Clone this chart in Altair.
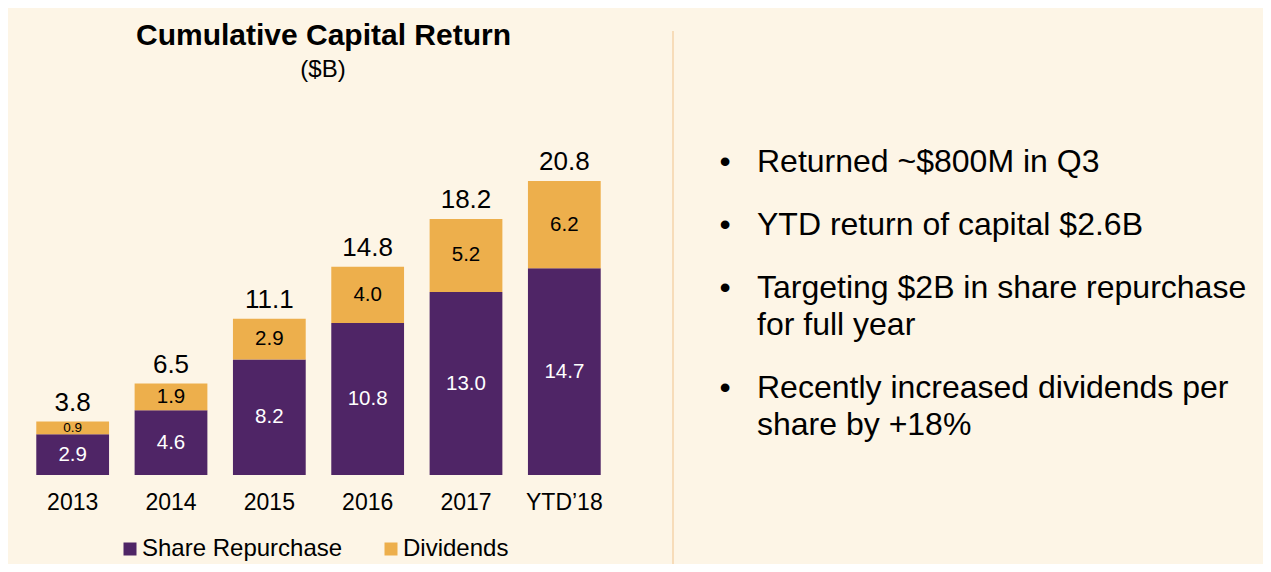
import altair as alt
import pandas as pd

# ---- data ----
years = ["2013", "2014", "2015", "2016", "2017", "YTD\u201918"]
repurchase = [2.9, 4.6, 8.2, 10.8, 13.0, 14.7]
dividends = [0.9, 1.9, 2.9, 4.0, 5.2, 6.2]
totals = [3.8, 6.5, 11.1, 14.8, 18.2, 20.8]
series = ["Share Repurchase", "Dividends"]
colors = ["#4F2566", "#EDAF4C"]
title_text = "Cumulative Capital Return"
subtitle_text = "($B)"
bullets = [
    ["Returned ~$800M in Q3"],
    ["YTD return of capital $2.6B"],
    ["Targeting $2B in share repurchase", "for full year"],
    ["Recently increased dividends per", "share by +18%"],
]

FONT = "Liberation Sans"
BG = "#FDF5E6"

rows = []
for i, yr in enumerate(years):
    rows.append({"year": yr, "series": series[0], "value": repurchase[i], "ord": 0})
    rows.append({"year": yr, "series": series[1], "value": dividends[i], "ord": 1})
df = pd.DataFrame(rows)

df_tot = pd.DataFrame({
    "year": years,
    "top": [r + d for r, d in zip(repurchase, dividends)],
    "label": [f"{t:.1f}" for t in totals],
})

x_enc = alt.X(
    "year:N",
    scale=alt.Scale(domain=years, range=[15.5, 605.5], paddingInner=0.26, paddingOuter=0.13),
    axis=alt.Axis(title=None, domain=False, ticks=False, labelAngle=0, labelFontSize=23,
                  labelColor="#000000", labelPadding=16, labelFont=FONT),
)
yscale = alt.Scale(domain=[0, 20.9], range=[467, 172.9], nice=False)

bars = alt.Chart(df).mark_bar().encode(
    x=x_enc,
    y=alt.Y("value:Q", stack="zero", scale=yscale, axis=None),
    color=alt.Color(
        "series:N",
        scale=alt.Scale(domain=series, range=colors),
        legend=alt.Legend(
            title=None, orient="none", legendX=110, legendY=529, direction="horizontal",
            symbolType="square", symbolSize=169, symbolStrokeWidth=0, symbolOpacity=1,
            labelFontSize=24, labelFont=FONT, labelColor="#000000", labelLimit=0,
            columnPadding=36, labelOffset=0, padding=0,
        ),
    ),
    order=alt.Order("ord:Q", sort="ascending"),
)

stacked = alt.Chart(df).transform_stack(
    stack="value", groupby=["year"], as_=["v0", "v1"],
    sort=[alt.SortField("ord", order="ascending")],
).transform_calculate(
    mid="(datum.v0 + datum.v1) / 2",
    lab="format(datum.value, '.1f')",
    fs="datum.value < 1 ? 13.5 : 20.5",
)

rep_labels = stacked.transform_filter("datum.ord == 0").mark_text(
    color="white", font=FONT, baseline="middle"
).encode(
    x=x_enc,
    y=alt.Y("mid:Q", scale=yscale, axis=None),
    text="lab:N",
    size=alt.Size("fs:Q", scale=None, legend=None),
)
div_labels = stacked.transform_filter("datum.ord == 1").mark_text(
    color="black", font=FONT, baseline="middle"
).encode(
    x=x_enc,
    y=alt.Y("mid:Q", scale=yscale, axis=None),
    text="lab:N",
    size=alt.Size("fs:Q", scale=None, legend=None),
)

tot_labels = alt.Chart(df_tot).mark_text(
    color="black", font=FONT, fontSize=26, baseline="alphabetic", dy=-11
).encode(
    x=x_enc,
    y=alt.Y("top:Q", scale=yscale, axis=None),
    text="label:N",
)

title = alt.Chart(pd.DataFrame({"t": [title_text]})).mark_text(
    font=FONT, fontSize=30, fontWeight="bold", color="black", baseline="alphabetic", align="center"
).encode(text="t:N", x=alt.value(315.5), y=alt.value(36.5))

subtitle = alt.Chart(pd.DataFrame({"t": [subtitle_text]})).mark_text(
    font=FONT, fontSize=24, color="black", baseline="alphabetic", align="center"
).encode(text="t:N", x=alt.value(315), y=alt.value(69))

divider = alt.Chart(pd.DataFrame({"a": [0]})).mark_rule(
    color="#F5D3AA", strokeWidth=1.5
).encode(x=alt.value(665), y=alt.value(23), y2=alt.value(570))

bullet_layers = []
y_base = 164.0
for lines in bullets:
    bullet_layers.append(
        alt.Chart(pd.DataFrame({"t": ["\u2022"]})).mark_text(
            font=FONT, fontSize=32, color="black", baseline="alphabetic", align="center"
        ).encode(text="t:N", x=alt.value(717), y=alt.value(y_base))
    )
    bullet_layers.append(
        alt.Chart(pd.DataFrame({"t": ["\n".join(lines)]})).mark_text(
            font=FONT, fontSize=32, color="black", baseline="alphabetic", align="left",
            lineBreak="\n", lineHeight=37,
        ).encode(text="t:N", x=alt.value(749), y=alt.value(y_base))
    )
    y_base += 63 + 37 * (len(lines) - 1)

chart = alt.layer(
    bars, rep_labels, div_labels, tot_labels, title, subtitle, divider, *bullet_layers
).properties(
    width=1255, height=467,
    padding={"left": 0, "top": 0, "right": 0, "bottom": 89},
    autosize="none",
    background=BG,
).configure_view(stroke=None)

chart.save("out.html", embed_options={"renderer": "svg", "actions": False})
